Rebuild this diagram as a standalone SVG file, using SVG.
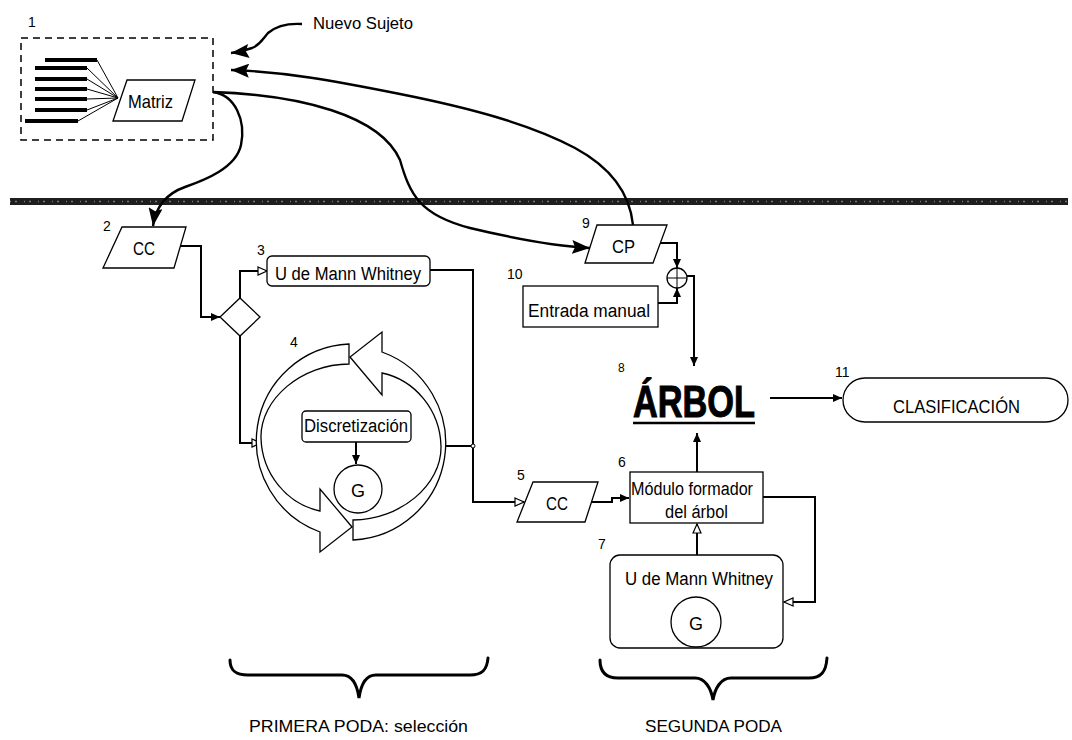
<svg xmlns="http://www.w3.org/2000/svg" width="1072" height="740" viewBox="0 0 1072 740">
<style>
  text { font-family: "Liberation Sans", Arial, sans-serif; fill: #000; }
  .num { font-size: 14px; }
  .lbl { font-size: 18px; }
  .shape { fill: #fff; stroke: #000; stroke-width: 1.3; }
  .conn { fill: none; stroke: #000; stroke-width: 2; }
  .curve { fill: none; stroke: #000; stroke-width: 2.4; }
  .brace { fill: none; stroke: #000; stroke-width: 3; stroke-linecap: round; }
  .bar { stroke: #000; stroke-width: 4; }
  .thin { stroke: #000; stroke-width: 1; }
</style>
<defs>
  <marker id="big" viewBox="0 0 18 14" refX="18" refY="7" markerWidth="18" markerHeight="14" markerUnits="userSpaceOnUse" orient="auto">
    <path d="M0,0 L18,7 L0,14 L3,7 z" fill="#000"/>
  </marker>
  <marker id="sm" viewBox="0 0 9 8" refX="9" refY="4" markerWidth="9" markerHeight="8" markerUnits="userSpaceOnUse" orient="auto">
    <path d="M0,0 L9,4 L0,8 z" fill="#000"/>
  </marker>
  <marker id="open" viewBox="-1 -1 11 10" refX="9" refY="4" markerWidth="11" markerHeight="10" markerUnits="userSpaceOnUse" orient="auto">
    <path d="M0,0 L9,4 L0,8 z" fill="#fff" stroke="#000" stroke-width="1.2"/>
  </marker>
</defs>
<rect width="1072" height="740" fill="#fff"/>

<!-- separator band -->
<g id="band">
  <rect x="10" y="198" width="1058" height="7" fill="#1e1e1e"/>
  <line x1="10" y1="201.5" x2="1068" y2="201.5" stroke="#777" stroke-width="1.5" stroke-dasharray="1 4 2 7"/>
</g>

<!-- connectors -->
<g id="connectors">
  <path class="curve" d="M302,24 C285,23 275,27 268,33 C262,40 260,45 252,48 C246,50 240,52 231,53" marker-end="url(#big)"/>
  <path class="curve" d="M633,225 C630,195 612,168 575,148 C530,124 470,108 400,94 C330,80 285,72 231,70" marker-end="url(#big)"/>
  <path class="curve" d="M213,92 C235,95 246,120 241,145 C236,168 205,180 185,187 C168,193 156,205 153,226" marker-end="url(#big)"/>
  <path class="curve" d="M213,92 C300,95 380,115 400,160 C410,195 420,215 470,228 C520,240 555,246 590,248" marker-end="url(#big)"/>
  <path class="conn" d="M180,246 H201 V317 H220" marker-end="url(#sm)"/>
  <path class="conn" d="M240,298 V271 H267" marker-end="url(#open)"/>
  <path class="conn" d="M240,336 V443 H261" marker-end="url(#open)"/>
  <path class="conn" d="M430,270 H473 V502 H524" marker-end="url(#open)"/>
  <path class="conn" d="M443,446 H473"/>
  <circle cx="473" cy="446" r="2" fill="#fff" stroke="#000" stroke-width="1"/>
  <path class="conn" d="M356,442 V464" marker-end="url(#sm)"/>
  <path class="conn" d="M591,502 H612 V498 H629" marker-end="url(#sm)"/>
  <path class="conn" d="M763,497 H815 V602 H784" marker-end="url(#open)"/>
  <path class="conn" d="M697,555 V524" marker-end="url(#open)"/>
  <path class="conn" d="M697,472 V433" marker-end="url(#sm)"/>
  <path class="conn" d="M660,243 H677 V268" marker-end="url(#sm)"/>
  <path class="conn" d="M658,303 H677 V288" marker-end="url(#sm)"/>
  <path class="conn" d="M687,276 H694 V366" marker-end="url(#sm)"/>
  <path class="conn" d="M770,398 H842" marker-end="url(#sm)"/>
</g>

<!-- 1: matrix box -->
<g id="n1-matriz">
  <rect x="21" y="38" width="192" height="102" fill="none" stroke="#000" stroke-width="1.5" stroke-dasharray="7 5"/>
  <line class="bar" x1="45" y1="60" x2="97" y2="60"/>
  <line class="bar" x1="35" y1="68" x2="87" y2="68"/>
  <line class="bar" x1="35" y1="79" x2="87" y2="79"/>
  <line class="bar" x1="35" y1="89" x2="87" y2="89"/>
  <line class="bar" x1="35" y1="99" x2="87" y2="99"/>
  <line class="bar" x1="35" y1="110" x2="87" y2="110"/>
  <line class="bar" x1="25" y1="121" x2="78" y2="121"/>
  <line class="thin" x1="97" y1="60" x2="118" y2="98"/>
  <line class="thin" x1="87" y1="68" x2="118" y2="98"/>
  <line class="thin" x1="87" y1="79" x2="118" y2="98"/>
  <line class="thin" x1="87" y1="89" x2="118" y2="98"/>
  <line class="thin" x1="87" y1="99" x2="118" y2="98"/>
  <line class="thin" x1="87" y1="110" x2="118" y2="98"/>
  <line class="thin" x1="78" y1="121" x2="118" y2="98"/>
  <polygon class="shape" points="127,80 195,80 182,121 113,121"/>
  <text x="128" y="108" font-size="19" textLength="45" lengthAdjust="spacingAndGlyphs">Matriz</text>
  <text class="num" x="28" y="27">1</text>
</g>

<g id="nuevo-sujeto">
  <text x="313" y="29" font-size="16" textLength="100" lengthAdjust="spacingAndGlyphs">Nuevo Sujeto</text>
</g>

<!-- 2: CC -->
<g id="n2-cc">
  <polygon class="shape" points="122,227 186,227 174,268 103,268"/>
  <text class="lbl" x="133" y="255" textLength="22" lengthAdjust="spacingAndGlyphs">CC</text>
  <text class="num" x="103" y="231">2</text>
</g>

<!-- decision diamond -->
<g id="decision">
  <polygon class="shape" points="240,298 260,317 240,336 220,317"/>
</g>

<!-- 3: U de Mann Whitney -->
<g id="n3-mw">
  <rect class="shape" x="267" y="256" width="163" height="30" rx="5"/>
  <text class="lbl" x="275" y="280" textLength="146" lengthAdjust="spacingAndGlyphs">U de  Mann Whitney</text>
  <text class="num" x="257" y="255">3</text>
</g>

<!-- 4: cycle -->
<g id="n4-cycle">
  <path class="shape" d="M353,540 A97,97 0 0 0 382,352 L382,332 L350,357 L382,395 L382,373 C415,380 440,410 441,446 C442,485 400,520 353,520 Z"/>
  <path class="shape" d="M353,540 A97,97 0 0 0 382,352 L382,332 L350,357 L382,395 L382,373 C415,380 440,410 441,446 C442,485 400,520 353,520 Z" transform="rotate(180 351 442)"/>
  <rect class="shape" x="302" y="411" width="109" height="31" rx="4"/>
  <text class="lbl" x="304" y="432" textLength="104" lengthAdjust="spacingAndGlyphs">Discretización</text>
  <circle class="shape" cx="358" cy="489" r="24"/>
  <text class="lbl" x="358" y="497" text-anchor="middle">G</text>
  <text class="num" x="290" y="347">4</text>
</g>

<!-- 5: CC -->
<g id="n5-cc">
  <polygon class="shape" points="533,482 598,482 585,522 517,522"/>
  <text class="lbl" x="546" y="510" textLength="22" lengthAdjust="spacingAndGlyphs">CC</text>
  <text class="num" x="517" y="480">5</text>
</g>

<!-- 6: Modulo -->
<g id="n6-modulo">
  <rect class="shape" x="630" y="472" width="133" height="51"/>
  <text class="lbl" x="631" y="495" textLength="122" lengthAdjust="spacingAndGlyphs">Módulo formador</text>
  <text class="lbl" x="665" y="518" textLength="63" lengthAdjust="spacingAndGlyphs">del árbol</text>
  <text class="num" x="618" y="467">6</text>
</g>

<!-- 7: U de Mann Whitney with G -->
<g id="n7-mw">
  <rect class="shape" x="610" y="555" width="173" height="93" rx="10"/>
  <text class="lbl" x="625" y="585" textLength="148" lengthAdjust="spacingAndGlyphs">U de  Mann Whitney</text>
  <circle class="shape" cx="696" cy="622" r="25"/>
  <text class="lbl" x="696" y="630" text-anchor="middle">G</text>
  <text class="num" x="598" y="549">7</text>
</g>

<!-- 8: ARBOL -->
<g id="n8-arbol">
  <text x="633" y="417" font-family="'DejaVu Sans Condensed','DejaVu Sans',sans-serif" font-weight="bold" font-size="44" stroke="#000" stroke-width="1" textLength="122" lengthAdjust="spacingAndGlyphs">ÁRBOL</text>
  <line x1="633" y1="423" x2="755" y2="423" stroke="#000" stroke-width="2.5"/>
  <text x="618" y="372" font-size="12">8</text>
</g>

<!-- 9: CP -->
<g id="n9-cp">
  <polygon class="shape" points="597,225 667,225 653,263 585,263"/>
  <text class="lbl" x="612" y="253" textLength="23" lengthAdjust="spacingAndGlyphs">CP</text>
  <text class="num" x="582" y="228">9</text>
</g>

<!-- 10: Entrada manual -->
<g id="n10-entrada">
  <rect class="shape" x="523" y="286" width="135" height="41"/>
  <text class="lbl" x="528" y="317" textLength="122" lengthAdjust="spacingAndGlyphs">Entrada manual</text>
  <text class="num" x="507" y="279">10</text>
</g>

<!-- summing junction -->
<g id="oplus">
  <circle class="shape" cx="677" cy="278" r="10"/>
  <line class="thin" x1="667" y1="278" x2="687" y2="278"/>
  <line class="thin" x1="677" y1="268" x2="677" y2="288"/>
</g>

<!-- 11: CLASIFICACION -->
<g id="n11-clasificacion">
  <rect class="shape" x="843" y="378" width="225" height="44" rx="22"/>
  <text class="lbl" x="893" y="413" textLength="127" lengthAdjust="spacingAndGlyphs">CLASIFICACIÓN</text>
  <text class="num" x="835" y="377">11</text>
</g>

<!-- braces -->
<g id="brace-primera">
  <path class="brace" d="M230,660 C230,671 236,675 248,675 L342,675 C352,675 357,684 359,698 C361,684 366,675 376,675 L470,675 C482,675 487,670 488,658"/>
  <text x="249" y="732" font-size="17" textLength="219" lengthAdjust="spacingAndGlyphs">PRIMERA PODA: selección</text>
</g>
<g id="brace-segunda">
  <path class="brace" d="M600,660 C600,672 606,678 618,678 L695,678 C705,678 711,688 713,700 C715,688 721,678 731,678 L809,678 C821,678 826,672 827,658"/>
  <text x="645" y="732" font-size="17" textLength="137" lengthAdjust="spacingAndGlyphs">SEGUNDA PODA</text>
</g>
</svg>
